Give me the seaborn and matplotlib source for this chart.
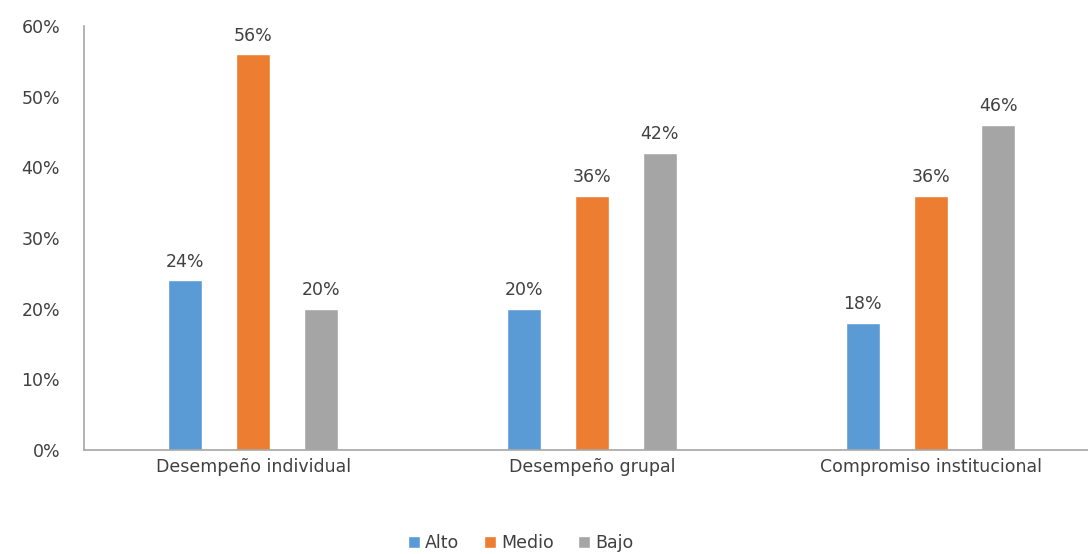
import matplotlib
matplotlib.use("Agg")
import matplotlib.pyplot as plt
import seaborn as sns
import pandas as pd

categories = ["Desempeño individual", "Desempeño grupal", "Compromiso institucional"]
levels = ["Alto", "Medio", "Bajo"]
alto = [24, 20, 18]
medio = [56, 36, 36]
bajo = [20, 42, 46]

colors = ["#5B9BD5", "#ED7D31", "#A5A5A5"]
text_color = "#404040"

rows = []
for lvl, vals in zip(levels, [alto, medio, bajo]):
    for cat, v in zip(categories, vals):
        rows.append({"categoria": cat, "nivel": lvl, "valor": v})
df = pd.DataFrame(rows)

sns.set_style("white")
plt.rcParams['font.family'] = ['DejaVu Sans']

fig = plt.figure(figsize=(10.88, 5.54), dpi=100)
ax = fig.add_axes([0.077, 0.188, 0.934, 0.765])

sns.barplot(data=df, x="categoria", y="valor", hue="nivel", order=categories,
            hue_order=levels, palette=colors, width=0.6, gap=0.5,
            saturation=1, ax=ax, legend=True)

for cont in ax.containers:
    ax.bar_label(cont, labels=[f"{v:.0f}%" for v in cont.datavalues],
                 padding=7, fontsize=12.5, color=text_color)

ax.set_ylim(0, 60)
ax.set_yticks(range(0, 61, 10))
ax.set_yticklabels([f"{t}%" for t in range(0, 61, 10)])
ax.set_xlim(-0.5, 2.5)
ax.set_xlabel("")
ax.set_ylabel("")
ax.tick_params(axis="both", length=0, labelsize=12.5, colors=text_color)
ax.tick_params(axis="x", pad=6)
ax.tick_params(axis="y", pad=17)
for s in ["top", "right"]:
    ax.spines[s].set_visible(False)
for s in ["left", "bottom"]:
    ax.spines[s].set_color("#A6A6A6")
    ax.spines[s].set_linewidth(1.2)

ax.legend(loc="center", bbox_to_anchor=(0.43, -0.22), ncol=3, frameon=False,
          fontsize=12.5, handlelength=0.7, handleheight=0.7, handletextpad=0.3,
          columnspacing=1.4, labelcolor=text_color)

fig.savefig("out.png", dpi=100)
